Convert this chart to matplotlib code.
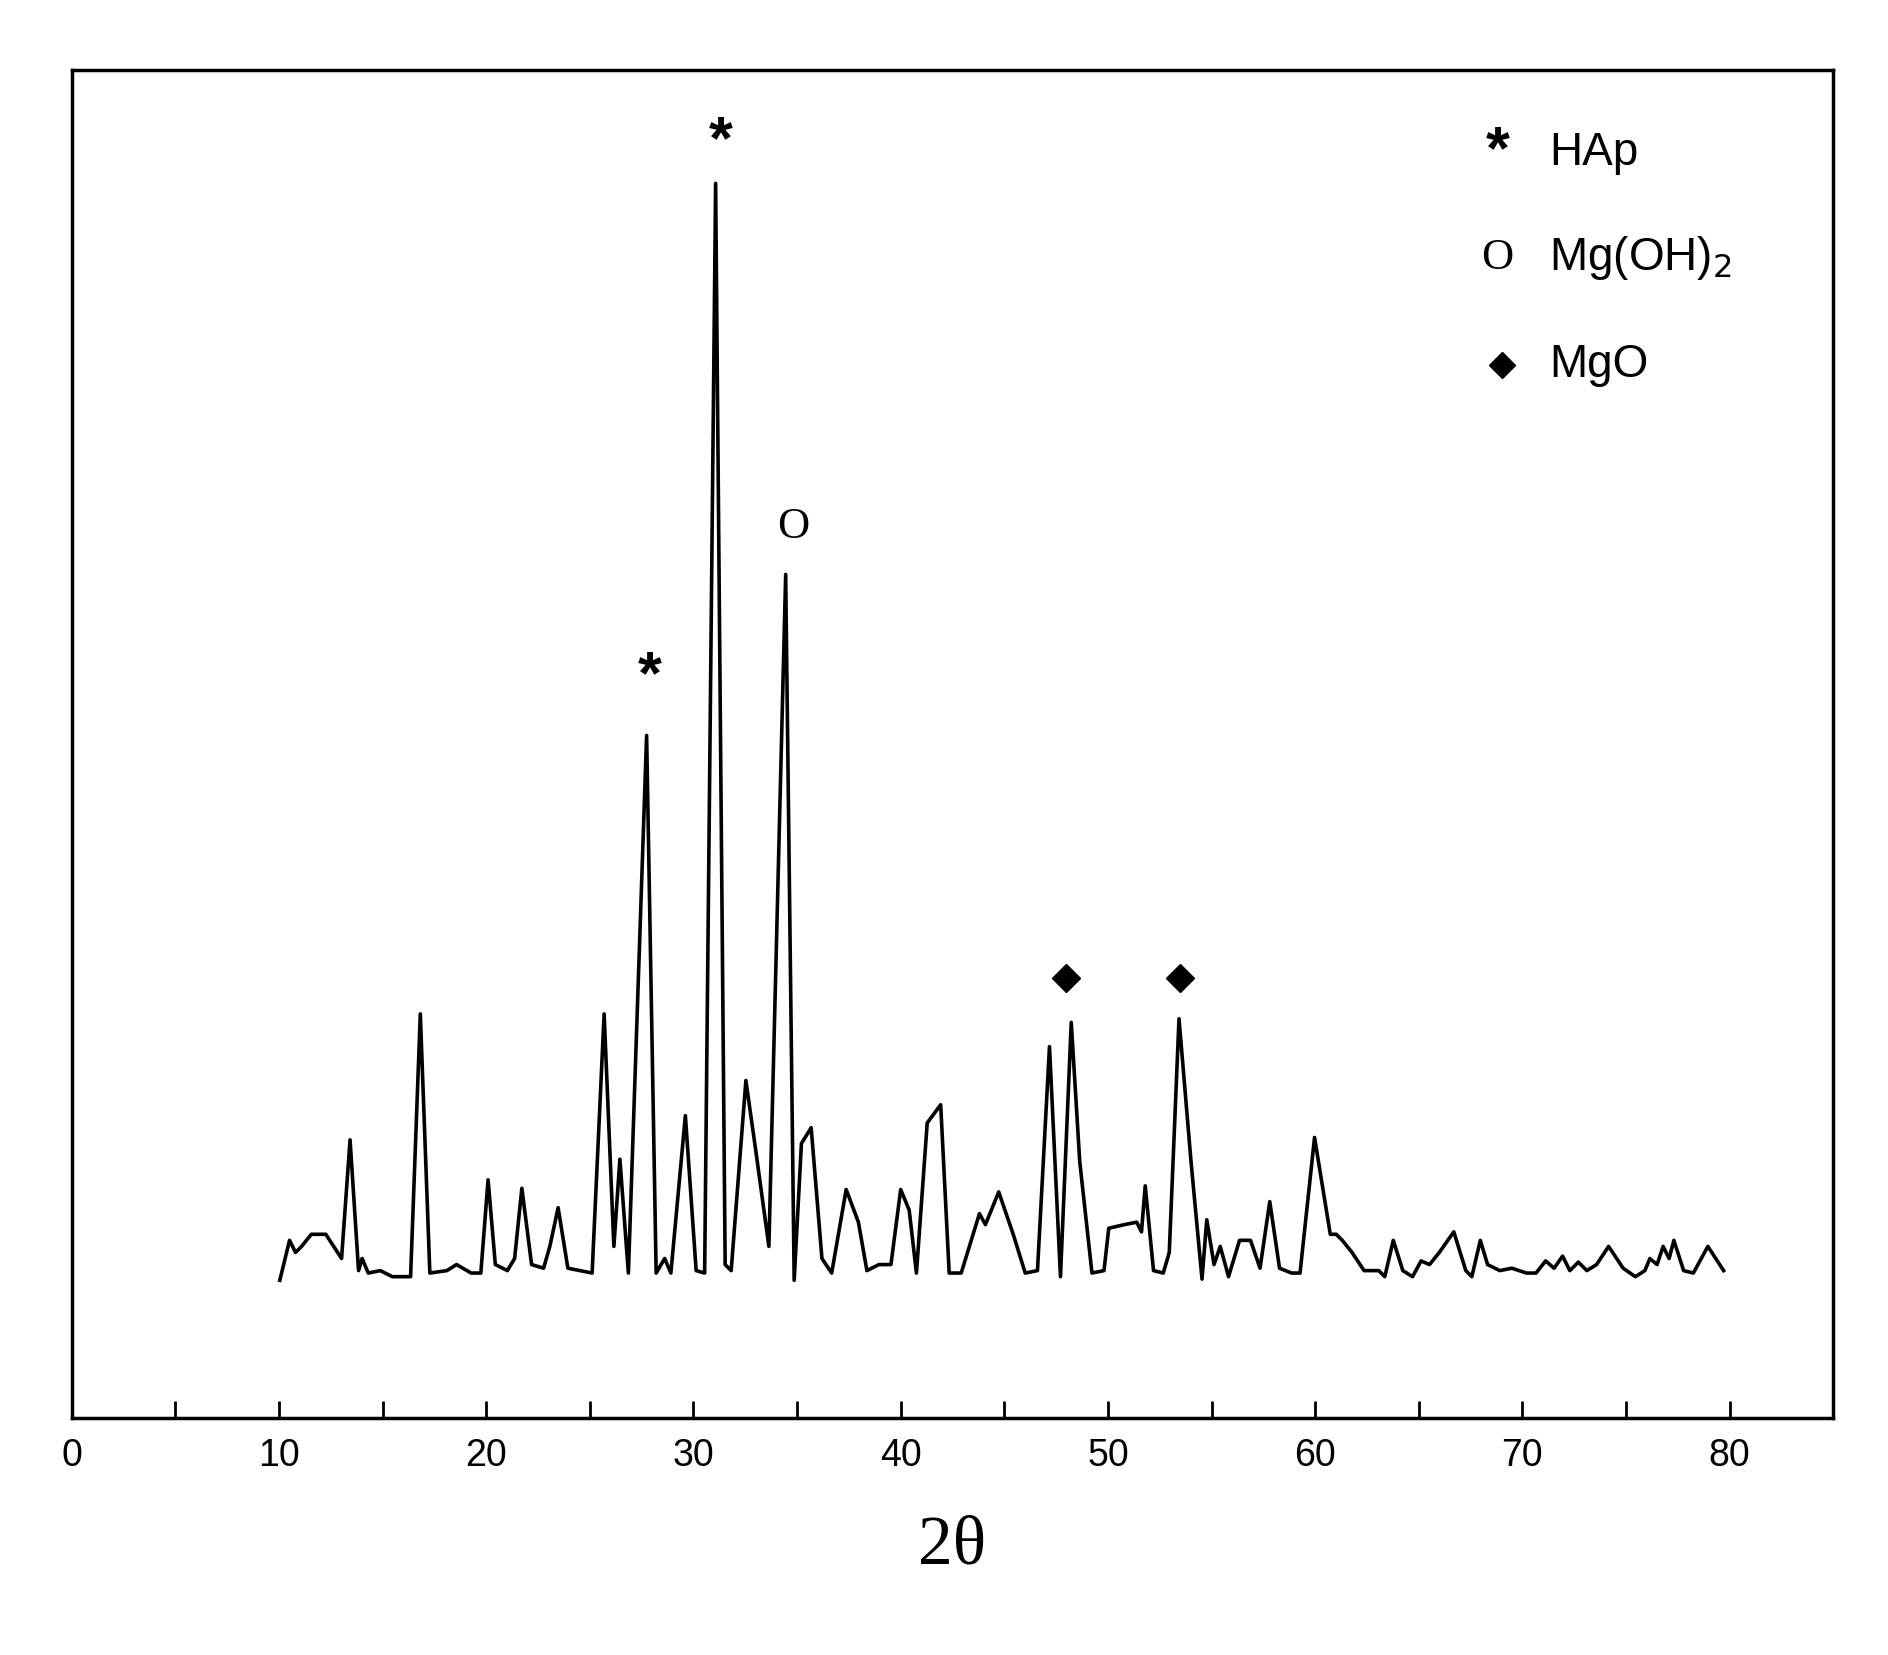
import matplotlib.pyplot as plt

# ---------- Data ----------
two_theta = [
    10.04, 10.51, 10.80, 11.09, 11.56, 12.26, 13.02, 13.43, 13.84, 14.01, 14.31, 14.89, 15.47,
    16.35, 16.82, 17.28, 18.10, 18.57, 19.27, 19.74, 20.09, 20.44, 21.02, 21.37, 21.72, 22.19,
    22.77, 23.07, 23.47, 23.94, 25.11, 25.69, 26.16, 26.45, 26.86, 27.74, 28.20, 28.61, 28.91,
    29.61, 30.13, 30.54, 31.07, 31.53, 31.82, 32.53, 33.00, 33.64, 34.45, 34.86, 35.21, 35.68,
    36.20, 36.67, 37.37, 37.96, 38.37, 38.95, 39.53, 40.00, 40.41, 40.76, 41.28, 41.93, 42.34,
    42.92, 43.80, 44.09, 44.73, 45.43, 46.01, 46.60, 47.18, 47.71, 48.23, 48.64, 49.23, 49.81,
    50.04, 50.80, 51.39, 51.62, 51.80, 52.20, 52.67, 52.96, 53.43, 54.01, 54.54, 54.77, 55.12,
    55.42, 55.82, 56.35, 56.88, 57.34, 57.81, 58.28, 58.86, 59.27, 59.97, 60.73, 61.02, 61.31,
    61.78, 62.36, 63.07, 63.36, 63.77, 64.23, 64.70, 65.11, 65.52, 65.99, 66.69, 67.27, 67.56,
    67.97, 68.32, 68.91, 69.49, 70.19, 70.66, 71.12, 71.53, 71.94, 72.29, 72.70, 73.11, 73.58,
    74.16, 74.86, 75.45, 75.91, 76.15, 76.50, 76.79, 77.08, 77.31, 77.78, 78.25, 78.95, 79.71,
]
intensity = [
    114, 147, 137, 142, 152, 152, 132, 230, 122, 132, 120, 122, 117,
    117, 334, 120, 122, 127, 120, 120, 197, 127, 122, 132, 190, 127,
    124, 142, 174, 124, 120, 334, 142, 214, 120, 564, 120, 132, 120,
    250, 122, 120, 1020, 127, 122, 279, 222, 142, 697, 114, 227, 240,
    132, 120, 189, 162, 122, 127, 127, 189, 172, 120, 244, 259, 120,
    120, 169, 160, 187, 152, 120, 122, 307, 117, 327, 212, 120, 122,
    157, 160, 162, 154, 192, 122, 120, 137, 330, 212, 115, 164, 127,
    142, 117, 147, 147, 124, 179, 124, 120, 120, 232, 152, 152, 147,
    137, 122, 122, 117, 147, 122, 117, 130, 127, 137, 154, 122, 117,
    147, 127, 122, 124, 120, 120, 130, 124, 134, 122, 129, 122, 127,
    142, 124, 117, 122, 132, 127, 142, 132, 147, 122, 120, 142, 122,
]

# peak markers: (2theta, height, symbol)
peak_marks = [(31.3, 1030, "*"), (27.9, 588, "*"), (34.8, 720, "O"), (48.0, 364, "D"), (53.5, 364, "D")]
legend_items = [("*", "HAp"), ("O", "Mg(OH)$_2$"), ("D", "MgO")]

# ---------- Plot ----------
fig = plt.figure(figsize=(18.88, 16.55), dpi=100)
ax = fig.add_axes([0.038, 0.143, 0.933, 0.815])
ax.plot(two_theta, intensity, color="black", lw=2.6)
ax.set_xlim(0, 85)
ax.set_ylim(0, 1114)
ax.set_yticks([])
ax.set_xticks(range(0, 81, 10))
ax.set_xticks(range(5, 81, 10), minor=True)
ax.tick_params(axis="x", which="both", direction="in", length=12, width=2, labelsize=27, pad=14)
for s in ax.spines.values():
    s.set_linewidth(2.5)
for lbl in ax.get_xticklabels():
    lbl.set_family("Liberation Sans")
ax.set_xlabel("2θ", family="Liberation Serif", fontsize=50, labelpad=30)

for x, y, sym in peak_marks:
    if sym == "*":
        ax.text(x, y, "*", ha="center", va="bottom", fontsize=44, family="Liberation Sans", fontweight="bold")
    elif sym == "O":
        ax.text(x, y, "O", ha="center", va="bottom", fontsize=32, family="Liberation Serif")
    else:
        ax.plot(x, y, marker="D", color="black", ms=14)

# legend drawn as text
ly = [1045, 958, 870]
for (sym, name), y in zip(legend_items, ly):
    if sym == "*":
        ax.text(68.8, y, "*", ha="center", va="center", fontsize=44, family="Liberation Sans", fontweight="bold")
    elif sym == "O":
        ax.text(68.8, y, "O", ha="center", va="center", fontsize=32, family="Liberation Serif")
    else:
        ax.plot(69.0, y, marker="D", color="black", ms=13)
    ax.text(71.3, y, name, ha="left", va="center", fontsize=33, family="Liberation Sans")

fig.savefig("out.png")
